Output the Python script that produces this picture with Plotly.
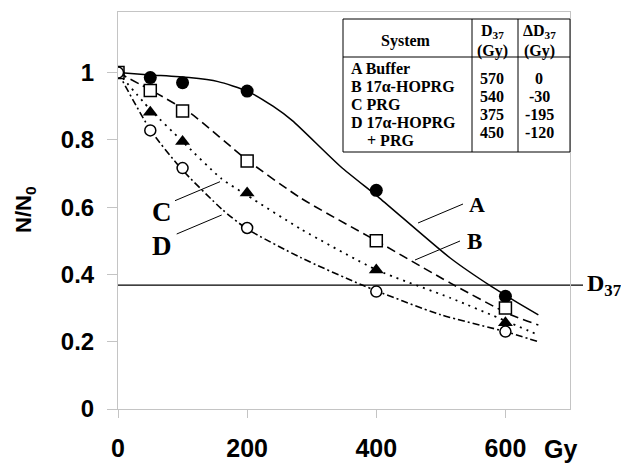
import plotly.graph_objects as go

# ---------------- data ----------------
dose = [0, 50, 100, 200, 400, 600]
surv_A = [1.0, 0.985, 0.97, 0.945, 0.65, 0.335]
surv_B = [1.0, 0.947, 0.886, 0.737, 0.50, 0.30]
surv_C = [1.0, 0.882, 0.795, 0.642, 0.413, 0.256]
surv_D = [1.0, 0.828, 0.716, 0.538, 0.349, 0.23]

fit_A_dose = [0, 50, 110, 155, 200, 240, 270, 345, 405, 515, 580, 620, 651]
fit_A = [1.0, 0.993, 0.985, 0.973, 0.945, 0.90, 0.857, 0.72, 0.627, 0.448, 0.362, 0.315, 0.28]
fit_B_dose = [0, 60, 113, 200, 283, 400, 515, 608, 651]
fit_B = [1.0, 0.938, 0.878, 0.74, 0.627, 0.50, 0.374, 0.28, 0.25]
fit_C_dose = [0, 50, 100, 160, 200, 283, 400, 515, 600, 651]
fit_C = [1.0, 0.89, 0.795, 0.685, 0.635, 0.535, 0.414, 0.33, 0.262, 0.22]
fit_D_dose = [0, 50, 97, 162, 200, 283, 381, 500, 600, 651]
fit_D = [1.0, 0.83, 0.716, 0.592, 0.535, 0.45, 0.366, 0.28, 0.23, 0.20]

d37_level = 0.368

x_ticks = [0, 200, 400, 600]
x_ticktext = ["0", "200", "400", "600"]
y_ticks = [0, 0.2, 0.4, 0.6, 0.8, 1.0]
y_ticktext = ["0", "0.2", "0.4", "0.6", "0.8", "1"]

table_systems = ["A Buffer", "B 17α-HOPRG", "C PRG", "D 17α-HOPRG"]
table_system_cont = "+ PRG"
table_d37 = ["570", "540", "375", "450"]
table_delta = ["0", "-30", "-195", "-120"]

# ---------------- layout helpers ----------------
# the page body has an 8px margin, so the figure is made 8px smaller
OFF = 8
VW, VH = 629, 465                      # visible window
PL, PT, PR, PB = 118, 12, 570, 409     # plot-area edges in window pixels
W, H = VW - OFF, VH - OFF
L, T = PL - OFF, PT - OFF
R = W - (PR - OFF)
B = H - (PB - OFF)
PW, PH = PR - PL, PB - PT


def pxx(xp):
    return (xp - PL) / PW


def pxy(yp):
    return (PB - yp) / PH


SERIF = "Liberation Serif, Times New Roman, serif"
SANS = "Liberation Sans, Arial, sans-serif"

fig = go.Figure()

# fitted curves
fig.add_trace(go.Scatter(x=fit_A_dose, y=fit_A, mode="lines",
                         line=dict(color="black", width=1.5, shape="spline", smoothing=0.6)))
fig.add_trace(go.Scatter(x=fit_B_dose, y=fit_B, mode="lines",
                         line=dict(color="black", width=1.6, dash="9px,5px", shape="spline", smoothing=0.6)))
fig.add_trace(go.Scatter(x=fit_C_dose, y=fit_C, mode="lines",
                         line=dict(color="black", width=1.8, dash="2px,5px", shape="spline", smoothing=0.6)))
fig.add_trace(go.Scatter(x=fit_D_dose, y=fit_D, mode="lines",
                         line=dict(color="black", width=1.6, dash="7px,3px,2px,3px", shape="spline", smoothing=0.6)))

# markers
fig.add_trace(go.Scatter(x=dose, y=surv_A, mode="markers",
                         marker=dict(symbol="circle", size=13, color="black")))
fig.add_trace(go.Scatter(x=dose, y=surv_B, mode="markers",
                         marker=dict(symbol="square", size=12, color="white",
                                     line=dict(color="black", width=1.5))))
fig.add_trace(go.Scatter(x=dose, y=surv_C, mode="markers",
                         marker=dict(symbol="triangle-up", size=13, color="black")))
fig.add_trace(go.Scatter(x=dose, y=surv_D, mode="markers",
                         marker=dict(symbol="circle", size=11, color="white",
                                     line=dict(color="black", width=1.5))))

shapes = []
annotations = []

# D37 reference line (extends a little beyond the frame)
shapes.append(dict(type="line", xref="paper", yref="y", x0=0, x1=pxx(583),
                   y0=d37_level, y1=d37_level, line=dict(color="black", width=1.3),
                   layer="below"))
annotations.append(dict(xref="paper", yref="y", x=pxx(585), y=d37_level, xanchor="left",
                        yanchor="middle", showarrow=False,
                        text="<b>D<sub>37</sub></b>",
                        font=dict(family=SERIF, size=24, color="black")))

# curve labels with pointer lines (window pixel positions -> paper)
pointers = [
    ("A", (418, 223), (463, 204), (467, 204), 22),
    ("B", (415, 260), (460, 241), (465, 241.5), 23),
    ("C", (175, 200.7), (220, 181.7), (150, 211.5), 27),
    ("D", (176.7, 234), (221.7, 215), (150, 245.5), 27),
]
for lab, p0, p1, tp, fs in pointers:
    shapes.append(dict(type="line", xref="paper", yref="paper",
                       x0=pxx(p0[0]), y0=pxy(p0[1]), x1=pxx(p1[0]), y1=pxy(p1[1]),
                       line=dict(color="black", width=1)))
    annotations.append(dict(xref="paper", yref="paper", x=pxx(tp[0]), y=pxy(tp[1]),
                            xanchor="left", yanchor="middle", showarrow=False,
                            text="<b>%s</b>" % lab,
                            font=dict(family=SERIF, size=fs, color="black")))

# table
tl, tr_, tt, tb = 343, 570, 19, 152
shapes.append(dict(type="rect", xref="paper", yref="paper",
                   x0=pxx(tl), x1=pxx(tr_), y0=pxy(tb), y1=pxy(tt),
                   fillcolor="white", line=dict(color="black", width=1)))
for xv in (472, 518):
    shapes.append(dict(type="line", xref="paper", yref="paper",
                       x0=pxx(xv), x1=pxx(xv), y0=pxy(tb), y1=pxy(tt),
                       line=dict(color="black", width=1)))
shapes.append(dict(type="line", xref="paper", yref="paper",
                   x0=pxx(tl), x1=pxx(tr_), y0=pxy(57), y1=pxy(57),
                   line=dict(color="black", width=1)))

TF = dict(family=SERIF, size=16, color="black")


def txt(x, y, s, anchor="center", font=TF, angle=0):
    annotations.append(dict(xref="paper", yref="paper", x=pxx(x), y=pxy(y),
                            xanchor=anchor, yanchor="middle", showarrow=False,
                            text=s, font=font, textangle=angle))


txt(406, 40.5, "<b>System</b>")
txt(492, 31.5, "<b>D<sub>37</sub></b>")
txt(492, 50.7, "<b>(Gy)</b>")
txt(539, 31.5, "<b>ΔD<sub>37</sub></b>")
txt(539, 50.7, "<b>(Gy)</b>")
row_y0, row_dy = 68.3, 18
for i, s in enumerate(table_systems):
    txt(349, row_y0 + i * row_dy, "<b>%s</b>" % s, anchor="left")
txt(365, row_y0 + 4 * row_dy, "<b>%s</b>" % table_system_cont, anchor="left")
val_y0 = 78.3
for i, (d, dd) in enumerate(zip(table_d37, table_delta)):
    txt(492, val_y0 + i * row_dy, "<b>%s</b>" % d)
    txt(539, val_y0 + i * row_dy, "<b>%s</b>" % dd)

# axis titles as annotations
txt(25, 210, "<b>N/N<sub>0</sub></b>", font=dict(family=SANS, size=22, color="black"), angle=-90)
txt(560, 449, "<b>Gy</b>", font=dict(family=SANS, size=25, color="black"))

GRAY = "#c4c4c4"
fig.update_layout(
    width=W, height=H,
    margin=dict(l=L, r=R, t=T, b=B, pad=0, autoexpand=False),
    paper_bgcolor="white", plot_bgcolor="white",
    showlegend=False,
    shapes=shapes, annotations=annotations,
    xaxis=dict(range=[0, 700], tickvals=x_ticks, ticktext=x_ticktext,
               showgrid=False, zeroline=False, showline=True, linecolor=GRAY,
               linewidth=1, mirror=True, ticks="outside", ticklen=8, tickcolor=GRAY,
               automargin=False,
               tickfont=dict(family=SANS, size=25, color="black", weight="bold"),
               ticklabelstandoff=9),
    yaxis=dict(range=[0, 1.18], tickvals=y_ticks, ticktext=y_ticktext,
               showgrid=False, zeroline=False, showline=True, linecolor=GRAY,
               linewidth=1, mirror=True, ticks="outside", ticklen=10, tickcolor=GRAY,
               automargin=False,
               tickfont=dict(family=SANS, size=24, color="black", weight="bold"),
               ticklabelstandoff=8),
)

fig.write_html("out.html")
